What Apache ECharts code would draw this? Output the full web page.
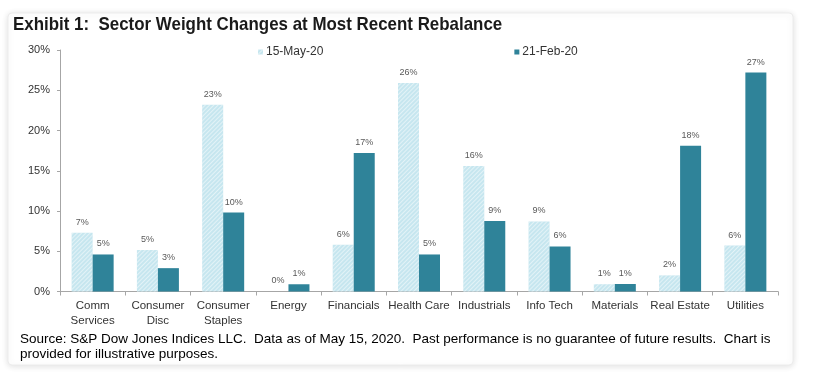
<!DOCTYPE html>
<html><head><meta charset="utf-8">
<script src="https://cdn.jsdelivr.net/npm/echarts@6/dist/echarts.min.js"></script>
<style>html,body{margin:0;padding:0;background:#fff;}#c{width:813px;height:375px;}</style>
</head><body><div id="c"></div>
<script>
const categories = ["Comm\nServices","Consumer\nDisc","Consumer\nStaples","Energy","Financials","Health Care","Industrials","Info Tech","Materials","Real Estate","Utilities"];
const may20 = [7.3, 5.15, 23.2, 0, 5.8, 25.9, 15.6, 8.7, 0.9, 2.0, 5.7];
const feb20 = [4.6, 2.9, 9.8, 0.9, 17.2, 4.6, 8.75, 5.6, 0.93, 18.1, 27.2];
const seriesNames = ["15-May-20","21-Feb-20"];
const yTicks = [0,5,10,15,20,25,30];
const titleText = "Exhibit 1:  Sector Weight Changes at Most Recent Rebalance";
const sourceText = "Source: S&P Dow Jones Indices LLC.  Data as of May 15, 2020.  Past performance is no guarantee of future results.  Chart is\nprovided for illustrative purposes.";

const FONT = "'Liberation Sans Narrow','Arial Narrow','Liberation Sans',sans-serif";
const chart = echarts.init(document.getElementById('c'));
const lbl = {show:true, position:'top', distance:6, fontSize:9, color:'#595959', fontFamily:FONT,
  formatter: p => Math.round(p.value) + '%'};
chart.setOption({
  animation:false,
  backgroundColor:'#fff',
  graphic:[
    {type:'rect', z:-10, shape:{x:8,y:13,width:785,height:352,r:4},
     style:{fill:'#fff', stroke:'#ececec', lineWidth:1, shadowBlur:6, shadowColor:'rgba(0,0,0,0.12)', shadowOffsetY:1}},
    {type:'text', x:13, y:15, scaleX:0.89, style:{text:titleText, font:"bold 19px "+FONT, fill:'#1a1a1a'}},
    {type:'text', x:20, y:332, style:{text:sourceText, font:"13.5px "+FONT, fill:'#000', lineHeight:15}}
  ],
  legend:{
    data:seriesNames, top:41, left:253, itemGap:191, itemWidth:5, itemHeight:5, icon:'rect',
    textStyle:{fontSize:12, color:'#333', fontFamily:FONT, padding:[0,0,0,-2]}
  },
  grid:{left:60, right:35, top:50, bottom:83.5},
  xAxis:{
    type:'category', data:categories,
    axisLine:{lineStyle:{color:'#a6a6a6'}},
    axisTick:{show:true, length:4, lineStyle:{color:'#a6a6a6'}},
    axisLabel:{fontSize:11.5, color:'#333', fontFamily:FONT, margin:7, lineHeight:15, interval:0}
  },
  yAxis:{
    type:'value', min:0, max:30, interval:5,
    axisLine:{show:true, lineStyle:{color:'#a6a6a6'}},
    axisTick:{show:true, length:3, lineStyle:{color:'#a6a6a6'}},
    splitLine:{show:false},
    axisLabel:{fontSize:11, color:'#333', fontFamily:FONT, margin:10, formatter: v => yTicks.includes(v) ? v+'%' : ''}
  },
  series:[
    {name:seriesNames[0], type:'bar', data:may20, barWidth:21, barGap:'0%',
     itemStyle:{color:'#c6e6ef', decal:{symbol:'rect', symbolSize:1, dashArrayX:[1,0], dashArrayY:[1,2], rotation:-Math.PI/4, color:'rgba(255,255,255,0.5)'}},
     label:lbl},
    {name:seriesNames[1], type:'bar', data:feb20, barWidth:21,
     itemStyle:{color:'#2f8399'}, label:lbl}
  ]
});
</script></body></html>
